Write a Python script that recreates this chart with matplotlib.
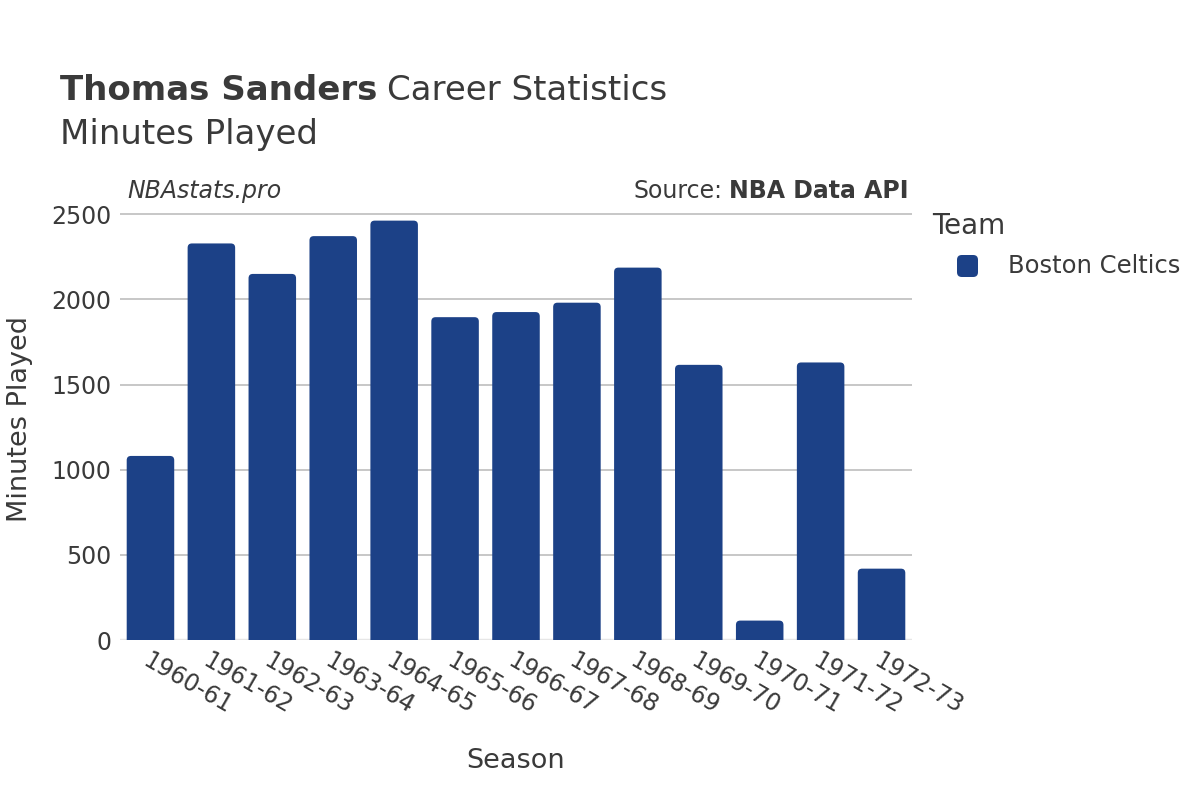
import matplotlib.pyplot as plt
from matplotlib.patches import FancyBboxPatch

seasons = ["1960-61", "1961-62", "1962-63", "1963-64", "1964-65", "1965-66", "1966-67",
           "1967-68", "1968-69", "1969-70", "1970-71", "1971-72", "1972-73"]
minutes = [1081, 2329, 2150, 2372, 2463, 1896, 1926, 1981, 2187, 1616, 114, 1630, 419]
team = "Boston Celtics"

bar_color = "#1c4187"
text_color = "#3a3a3a"

fig = plt.figure(figsize=(12, 8), dpi=100)
ax = fig.add_axes([0.1, 0.2, 0.66, 0.55125])

ax.set_xlim(-0.5, len(seasons) - 0.5)
ax.set_ylim(0, 2590)

# rounded bars: x unit ~60.9 px, y unit ~0.17 px
aspect = (1 / 0.17) / (1 / 60.9)
width = 0.78
for i, v in enumerate(minutes):
    p = FancyBboxPatch((i - width / 2, -40), width, v + 40,
                       boxstyle="round,pad=0,rounding_size=0.07",
                       mutation_aspect=aspect, facecolor=bar_color,
                       edgecolor="none", zorder=3)
    ax.add_patch(p)

ax.set_yticks([0, 500, 1000, 1500, 2000, 2500])
ax.yaxis.grid(True, color="#bdbdbd", linewidth=1.2, zorder=0)
ax.axhline(0, color="#e6e6e6", linewidth=2.5, zorder=2)
for s in ax.spines.values():
    s.set_visible(False)
ax.tick_params(axis="both", length=0, labelsize=17, colors=text_color, pad=6)

ax.set_xticks(range(len(seasons)))
ax.set_xticklabels(seasons, rotation=-30, ha="left", va="top", rotation_mode="anchor")

ax.set_xlabel("Season", fontsize=19.5, color=text_color, labelpad=21)
ax.set_ylabel("Minutes Played", fontsize=19.5, color=text_color, labelpad=13)

# title: bold name + regular rest
t1 = fig.text(0.05, 0.875, "Thomas Sanders", fontsize=24.5, color=text_color, fontweight="bold")
fig.canvas.draw()
bb = t1.get_window_extent()
fig.text(bb.x1 / 1200 + 0.008, 0.875, "Career Statistics", fontsize=24.5, color=text_color)
fig.text(0.05, 0.82, "Minutes Played", fontsize=24.5, color=text_color)

fig.text(0.106, 0.752, "NBAstats.pro", fontsize=17, style="italic", color=text_color)
src = fig.text(0.757, 0.752, "NBA Data API", fontsize=17, fontweight="bold",
               color=text_color, ha="right")
fig.canvas.draw()
sb = src.get_window_extent()
fig.text(sb.x0 / 1200 - 0.005, 0.752, "Source:", fontsize=17, color=text_color, ha="right")

# legend drawn by hand
fig.text(932 / 1200, 1 - 226 / 800, "Team", fontsize=20, color=text_color, va="center")
fig.patches.append(FancyBboxPatch((957 / 1200, 1 - 277 / 800), 21 / 1200, 22 / 800,
                                  boxstyle="round,pad=0,rounding_size=0.004",
                                  mutation_aspect=1.5, transform=fig.transFigure,
                                  facecolor=bar_color, edgecolor="none", figure=fig))
fig.text(1008 / 1200, 1 - 266 / 800, team, fontsize=17.5, color=text_color, va="center")

fig.savefig("out.png", dpi=100)
